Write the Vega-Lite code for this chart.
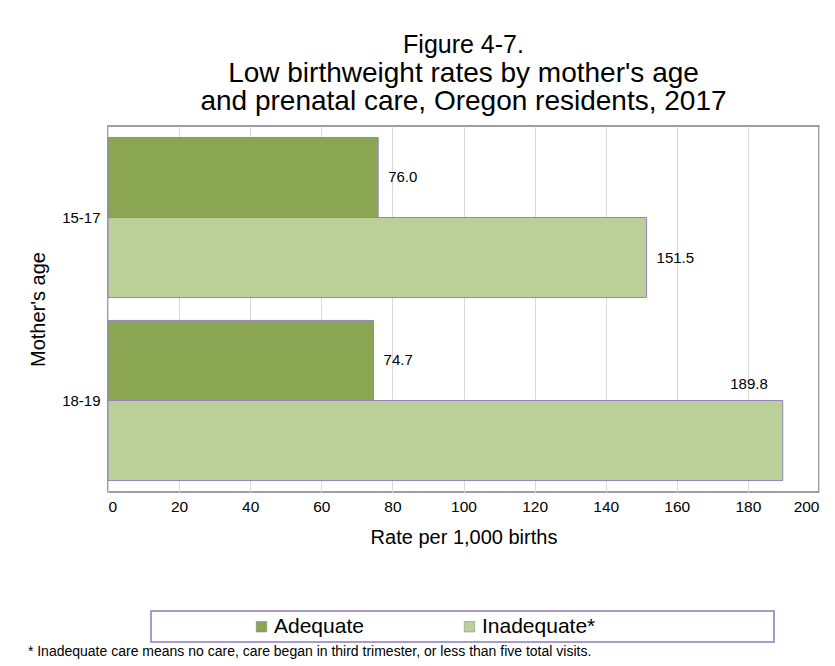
{
  "$schema": "https://vega.github.io/schema/vega-lite/v6.json",
  "autosize": {"type": "pad"},
  "padding": {"left": 27, "top": 32, "right": 0, "bottom": 0},
  "background": "white",
  "config": {
    "font": "Liberation Sans",
    "view": {"stroke": "#7f7f7f", "strokeWidth": 1.5},
    "axis": {"labelColor": "black", "titleColor": "black", "titleFontWeight": "normal", "labelFont": "Liberation Sans", "titleFont": "Liberation Sans"},
    "legend": {"labelFont": "Liberation Sans", "labelColor": "black", "strokeWidth": 1.5}
  },
  "datasets": {
    "rates": [
      {"age": "15-17", "care": "Adequate", "rate": 76.0},
      {"age": "15-17", "care": "Inadequate*", "rate": 151.5},
      {"age": "18-19", "care": "Adequate", "rate": 74.7},
      {"age": "18-19", "care": "Inadequate*", "rate": 189.8}
    ]
  },
  "title": {
    "text": "* Inadequate care means no care, care began in third trimester, or less than five total visits.",
    "orient": "bottom",
    "anchor": "start",
    "frame": "bounds",
    "fontSize": 14,
    "fontWeight": "normal",
    "color": "black",
    "offset": 2
  },
  "vconcat": [
    {
      "width": 711,
      "height": 366,
      "title": {
        "text": "Figure 4-7.",
        "subtitle": ["Low birthweight rates by mother's age", "and prenatal care, Oregon residents, 2017"],
        "anchor": "middle",
        "frame": "group",
        "fontSize": 25,
        "fontWeight": "normal",
        "color": "black",
        "subtitleFont": "Liberation Sans",
        "subtitleFontSize": 28,
        "subtitleLineHeight": 28,
        "subtitleColor": "black",
        "subtitlePadding": 2,
        "offset": 10
      },
      "data": {"name": "rates"},
      "encoding": {
        "y": {
          "field": "age",
          "type": "nominal",
          "title": "Mother's age",
          "scale": {"paddingInner": 0.125, "paddingOuter": 0.0625},
          "axis": {"domain": false, "ticks": false, "tickSize": 0, "labelFontSize": 15, "labelPadding": 8, "titleFontSize": 20, "titlePadding": 13}
        },
        "yOffset": {
          "field": "care",
          "type": "nominal",
          "sort": ["Adequate", "Inadequate*"],
          "scale": {"paddingInner": 0, "paddingOuter": 0}
        },
        "x": {
          "field": "rate",
          "type": "quantitative",
          "title": "Rate per 1,000 births",
          "scale": {"domain": [0, 200], "nice": false},
          "axis": {"values": [0, 20, 40, 60, 80, 100, 120, 140, 160, 180, 200], "domain": false, "ticks": false, "tickSize": 0, "labelFontSize": 15.5, "labelPadding": 7, "titleFontSize": 20, "titlePadding": 13, "gridColor": "#d9d9d9", "gridWidth": 1}
        }
      },
      "layer": [
        {
          "mark": {"type": "bar", "stroke": "#9683bf", "strokeWidth": 1},
          "encoding": {
            "color": {
              "field": "care",
              "type": "nominal",
              "title": "Prenatal care",
              "scale": {"domain": ["Adequate", "Inadequate*"], "range": ["#8aa652", "#bbcf98"]},
              "legend": {
                "orient": "none",
                "legendX": 43,
                "legendY": 485,
                "direction": "horizontal",
                "padding": 5,
                "strokeColor": "#8f78b8",
                "fillColor": "white",
                "symbolType": "square",
                "symbolSize": 110,
                "symbolStrokeWidth": 0.5,
                "symbolStrokeColor": "#7f7f7f",
                "symbolOffset": 95,
                "labelFontSize": 21,
                "labelOffset": 2,
                "columnPadding": 0,
                "titleOrient": "right",
                "titleFontSize": 20,
                "titleFontWeight": "normal",
                "titleOpacity": 0,
                "titlePadding": 55
              }
            }
          }
        },
        {
          "transform": [{"filter": "datum.rate < 185"}],
          "mark": {"type": "text", "align": "left", "baseline": "middle", "dx": 10, "fontSize": 15, "color": "black"},
          "encoding": {"text": {"field": "rate", "type": "quantitative", "format": ".1f"}}
        },
        {
          "transform": [{"filter": "datum.rate >= 185"}],
          "mark": {"type": "text", "align": "right", "baseline": "alphabetic", "dx": -15, "dy": -52, "fontSize": 15, "color": "black"},
          "encoding": {"text": {"field": "rate", "type": "quantitative", "format": ".1f"}}
        }
      ]
    }
  ]
}
